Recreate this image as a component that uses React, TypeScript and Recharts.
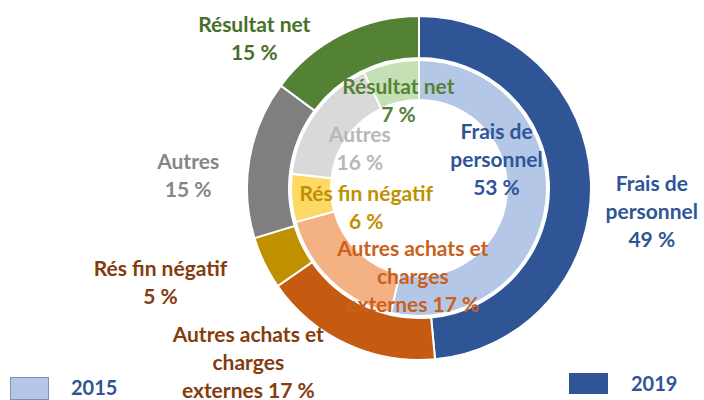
import React from "react";
import { PieChart, Pie, Cell } from "recharts";

// categories, clockwise from 12 o'clock
const categories = [
  "Frais de personnel",
  "Autres achats et charges externes",
  "Rés fin négatif",
  "Autres",
  "Résultat net",
];

// how each category name is broken over lines; the value goes at the end of the last line
const labelLines = [
  ["Frais de", "personnel", ""],
  ["Autres achats et", "charges", "externes "],
  ["Rés fin négatif", ""],
  ["Autres", ""],
  ["Résultat net", ""],
];

const values2015 = [53, 17, 6, 16, 7];
const values2019 = [49, 17, 5, 15, 15];

const colors2015 = ["#B4C7E7", "#F4B183", "#FFD966", "#D9D9D9", "#C5E0B4"];
const colors2019 = ["#2F5597", "#C55A11", "#BF9000", "#7F7F7F", "#548235"];

const textColors2015 = ["#2F5597", "#C9611C", "#BF9000", "#B8B8B8", "#548235"];
const textColors2019 = ["#2F5597", "#843C0C", "#843C0C", "#868686", "#476F2A"];

// label anchor: radius from the centre, then a nudge
const labelPlace2015 = [
  { r: 80, dx: -2, dy: -39 },
  { r: 80, dx: 49, dy: 29 },
  { r: 80, dx: 27, dy: 12 },
  { r: 80, dx: 6, dy: 5 },
  { r: 80, dx: -3, dy: -11 },
];
const labelPlace2019 = [
  { r: 215, dx: 18, dy: 32 },
  { r: 215, dx: -80, dy: -22 },
  { r: 215, dx: -65, dy: -1 },
  { r: 215, dx: -19, dy: 23 },
  { r: 215, dx: -68, dy: 41 },
];

const data2015 = categories.map((name, i) => ({ name, value: values2015[i] }));
const data2019 = categories.map((name, i) => ({ name, value: values2019[i] }));

const FONT = "Lato, 'Open Sans', sans-serif";
const RAD = Math.PI / 180;
const LINE_H = 28;

function makeLabel(values: number[], place: { r: number; dx: number; dy: number }[], textColors: string[]) {
  return (props: any) => {
    const { cx, cy, midAngle, index } = props;
    const p = place[index];
    const x = cx + p.r * Math.cos(-midAngle * RAD) + p.dx;
    const y = cy + p.r * Math.sin(-midAngle * RAD) + p.dy;
    const lines = labelLines[index].slice();
    lines[lines.length - 1] = lines[lines.length - 1] + values[index] + " %";
    const n = lines.length;
    return (
      <text
        x={x}
        y={y}
        textAnchor="middle"
        dominantBaseline="central"
        fill={textColors[index]}
        fontFamily={FONT}
        fontWeight={700}
        fontSize={21}
      >
        {lines.map((line, i) => (
          <tspan key={i} x={x} y={y + (i - (n - 1) / 2) * LINE_H}>
            {line}
          </tspan>
        ))}
      </text>
    );
  };
}

export default function App() {
  return (
    <div style={{ position: "absolute", left: 0, top: 0, width: 704, height: 400, background: "#fff", fontFamily: FONT }}>
      <PieChart width={704} height={400} margin={{ top: 0, right: 0, bottom: 0, left: 0 }}>
        <Pie
          data={data2019}
          dataKey="value"
          nameKey="name"
          cx={419}
          cy={188}
          innerRadius={130}
          outerRadius={172}
          startAngle={90}
          endAngle={-270}
          stroke="#fff"
          strokeWidth={2}
          labelLine={false}
          label={makeLabel(values2019, labelPlace2019, textColors2019)}
          isAnimationActive={false}
        >
          {data2019.map((d, i) => (
            <Cell key={d.name} fill={colors2019[i]} />
          ))}
        </Pie>
        <Pie
          data={data2015}
          dataKey="value"
          nameKey="name"
          cx={419}
          cy={188}
          innerRadius={88}
          outerRadius={128}
          startAngle={90}
          endAngle={-270}
          stroke="#fff"
          strokeWidth={2}
          labelLine={false}
          label={makeLabel(values2015, labelPlace2015, textColors2015)}
          isAnimationActive={false}
        >
          {data2015.map((d, i) => (
            <Cell key={d.name} fill={colors2015[i]} />
          ))}
        </Pie>
      </PieChart>

      {/* legend */}
      <div style={{ position: "absolute", left: 10, top: 377, width: 37, height: 21, background: "#B4C7E7", border: "1px solid #7F93B8" }} />
      <div style={{ position: "absolute", left: 71, top: 375, fontSize: 20, fontWeight: 700, color: "#2F5597", lineHeight: "24px" }}>2015</div>
      <div style={{ position: "absolute", left: 569, top: 373, width: 39, height: 21, background: "#2F5597" }} />
      <div style={{ position: "absolute", left: 631, top: 371, fontSize: 20, fontWeight: 700, color: "#2F5597", lineHeight: "24px" }}>2019</div>
    </div>
  );
}
